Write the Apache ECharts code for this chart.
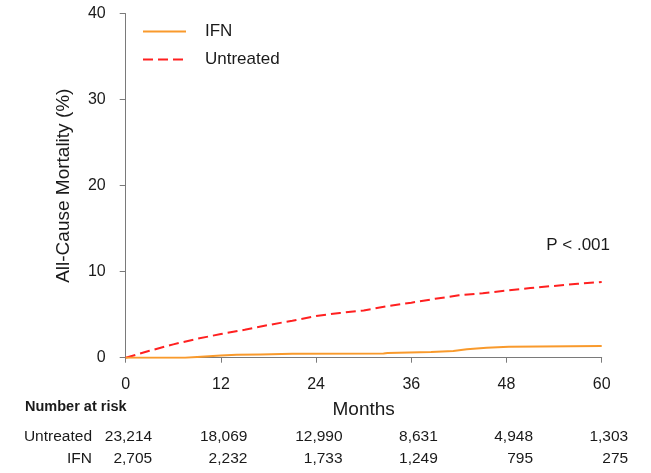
<!DOCTYPE html>
<html>
<head>
<meta charset="utf-8">
<script src="https://cdn.jsdelivr.net/npm/echarts@6/dist/echarts.min.js"></script>
<style>
  html, body { margin: 0; padding: 0; background: #fff; }
  #chart { width: 651px; height: 473px; }
</style>
</head>
<body>
<div id="chart"></div>
<script>
// tick labels
var monthTicks = [0, 12, 24, 36, 48, 60]
// cumulative mortality (%)
var untreatedMonths = [0, 3, 6, 9, 12, 15, 18, 21, 24, 27, 30, 33, 36, 39, 42, 45, 48, 51, 54, 57, 60]
var untreatedValues = [0, 0.8, 1.55, 2.2, 2.75, 3.25, 3.8, 4.3, 4.85, 5.2, 5.5, 6.0, 6.4, 6.85, 7.25, 7.5, 7.8, 8.1, 8.35, 8.6, 8.8]
var ifnMonths = [0, 7.5, 9.5, 12, 14, 17, 21, 32.5, 33, 38.5, 41.3, 43, 45.5, 48.3, 60]
var ifnValues = [0, 0.12, 0.25, 0.33, 0.38, 0.45, 0.5, 0.55, 0.66, 0.78, 0.97, 1.15, 1.27, 1.35, 1.35]
// number at risk
var riskUntreated = ['23,214', '18,069', '12,990', '8,631', '4,948', '1,303']
var riskIFN = ['2,705', '2,232', '1,733', '1,249', '795', '275']

var font = 'Liberation Sans, Arial, sans-serif'
var axisColor = '#7a7a7a'
var textColor = '#1a1a1a'

function pairs (xs, ys) {
    return xs.map(function (x, i) { return [x, ys[i]] })
}

var chart = echarts.init(document.getElementById('chart'))
var option = {
    animation: false,
    textStyle: { fontFamily: font },
    grid: { left: 125.7, right: 49.3, top: 13.7, bottom: 115.3 },
    legend: {
        orient: 'vertical',
        left: 137,
        top: 18,
        itemWidth: 43,
        itemHeight: 18,
        itemGap: 11,
        data: ['IFN', 'Untreated'],
        itemStyle: { opacity: 0 },
        textStyle: { fontSize: 17, color: textColor, padding: [0, 0, 0, 14], fontFamily: font }
    },
    xAxis: {
        type: 'value',
        min: 0,
        max: 60,
        interval: 12,
        offset: 4,
        name: 'Months',
        nameLocation: 'middle',
        nameGap: 39,
        nameTextStyle: { fontSize: 19, color: textColor, fontFamily: font },
        axisLine: { show: true, lineStyle: { color: axisColor, width: 1 } },
        axisTick: { show: true, length: 5, lineStyle: { color: axisColor } },
        axisLabel: {
            fontSize: 16,
            color: textColor,
            margin: 15,
            formatter: function (v) { return monthTicks.indexOf(v) >= 0 ? String(v) : '' }
        },
        splitLine: { show: false }
    },
    yAxis: {
        type: 'value',
        min: 0,
        max: 40,
        interval: 10,
        offset: 3,
        name: 'All-Cause Mortality (%)',
        nameLocation: 'middle',
        nameGap: 49,
        nameTextStyle: { fontSize: 19, color: textColor, fontFamily: font },
        axisLine: { show: true, lineStyle: { color: axisColor, width: 1 } },
        axisTick: { show: true, length: 6, lineStyle: { color: axisColor } },
        axisLabel: { fontSize: 16, color: textColor, margin: 17 },
        splitLine: { show: false }
    },
    series: [
        {
            name: 'IFN',
            type: 'line',
            step: 'end',
            data: pairs(ifnMonths, ifnValues),
            symbol: 'none',
            z: 3,
            lineStyle: { color: '#F99A2C', width: 2 },
            itemStyle: { color: '#F99A2C' }
        },
        {
            name: 'Untreated',
            type: 'line',
            data: pairs(untreatedMonths, untreatedValues),
            symbol: 'none',
            z: 2,
            lineStyle: { color: '#FF2020', width: 2, type: [10, 5] },
            itemStyle: { color: '#FF2020' }
        }
    ]
}
chart.setOption(option)

// risk table placed from the x axis scale
var graphics = [
    {
        type: 'text', x: 610, y: 245,
        style: { text: 'P < .001', fill: textColor, font: '17px ' + font, align: 'right', verticalAlign: 'middle' }
    },
    {
        type: 'text', x: 25, y: 407,
        style: { text: 'Number at risk', fill: textColor, font: 'bold 14.5px ' + font, verticalAlign: 'middle' }
    },
    {
        type: 'text', x: 92, y: 437,
        style: { text: 'Untreated', fill: textColor, font: '15.5px ' + font, align: 'right', verticalAlign: 'middle' }
    },
    {
        type: 'text', x: 92, y: 459,
        style: { text: 'IFN', fill: textColor, font: '15.5px ' + font, align: 'right', verticalAlign: 'middle' }
    }
]
monthTicks.forEach(function (m, i) {
    var px = chart.convertToPixel({ xAxisIndex: 0 }, m) + 26.5
    graphics.push({
        type: 'text', x: px, y: 437,
        style: { text: riskUntreated[i], fill: textColor, font: '15.5px ' + font, align: 'right', verticalAlign: 'middle' }
    })
    graphics.push({
        type: 'text', x: px, y: 459,
        style: { text: riskIFN[i], fill: textColor, font: '15.5px ' + font, align: 'right', verticalAlign: 'middle' }
    })
})
chart.setOption({ graphic: graphics })
</script>
</body>
</html>
